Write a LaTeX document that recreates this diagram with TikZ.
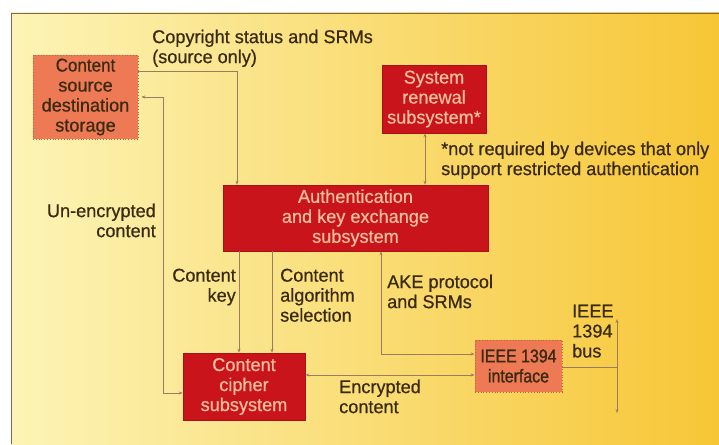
\documentclass[tikz,border=0pt]{standalone}
\usepackage{fontspec}
\setmainfont{Liberation Sans}[FakeStretch=0.98,FakeBold=0.6]
\usetikzlibrary{arrows.meta,shadings}
\definecolor{txt}{HTML}{3A2A12}
\definecolor{salmon}{HTML}{EE7A55}
\definecolor{redbox}{HTML}{C8141A}
\definecolor{pale}{HTML}{F4BE9C}
\definecolor{wire}{HTML}{9A7C62}
\definecolor{bgl}{HTML}{FCF4B6}
\definecolor{bgm}{HTML}{FAE58A}
\definecolor{bgr}{HTML}{F7C636}
\tikzset{
  fnt/.style={font=\fontsize{18.5}{20}\selectfont},
  lbl/.style={fnt, text=txt, inner sep=0pt, align=left},
  lightbox/.style={fill=salmon, draw=salmon!80!black, dotted, line width=0.8pt, fnt, text=txt, align=center, inner sep=0pt},
  darkbox/.style={fill=redbox, draw=redbox!85!black, line width=0.6pt, fnt, text=pale, align=center, inner sep=0pt},
  wireline/.style={draw=wire, line width=0.7pt},
  arr/.style={wireline, -{Stealth[length=4pt,width=3pt]}},
  darr/.style={wireline, {Stealth[length=4pt,width=3pt]}-{Stealth[length=4pt,width=3pt]}},
}
\begin{document}
\begin{tikzpicture}[x=1pt,y=-1pt]
\useasboundingbox (0,0) rectangle (719,444);
\fill[white] (0,0) rectangle (719,444);
\shade[left color=bgl, middle color=bgm, right color=bgr] (11,13) rectangle (719,444);
\draw[txt!70, line width=0.9pt] (11,444) -- (11,13) -- (719,13);
% boxes
\node[lightbox, minimum width=105pt, minimum height=84pt] (src) at (85.5,97) {\addfontfeature{FakeStretch=0.92}Content\\source\\destination\\storage};
\node[darkbox, minimum width=104pt, minimum height=68pt] (ren) at (434,99) {System\\renewal\\subsystem*};
\node[darkbox, minimum width=265pt, minimum height=66pt] (ake) at (355.5,218) {Authentication\\and key exchange\\subsystem};
\node[darkbox, minimum width=122pt, minimum height=67pt] (cip) at (244,386.5) {Content\\cipher\\subsystem};
\node[lightbox, minimum width=87pt, minimum height=52pt, font={\fontsize{18.5}{20}\selectfont\addfontfeature{FakeStretch=0.86,FakeBold=1.2}}] (ieee) at (518.5,366) {IEEE 1394\\interface};
% labels
\node[lbl, anchor=north west] (lcopy) at (152,29.5) {Copyright status and SRMs\\(source only)};
\node[lbl, anchor=north west] (lnote) at (441,141.5) {*not required by devices that only\\support restricted authentication};
\node[lbl, anchor=north east, align=right] (lun) at (156,203.5) {Un-encrypted\\content};
\node[lbl, anchor=north east, align=right] (lkey) at (236,268.5) {Content\\key};
\node[lbl, anchor=north west] (lalg) at (280,268.5) {Content\\algorithm\\selection};
\node[lbl, anchor=north west] (lake) at (387,274.5) {AKE protocol\\and SRMs};
\node[lbl, anchor=north west] (lenc) at (339,379.5) {Encrypted\\content};
\node[lbl, anchor=north west] (lbus) at (572,304.5) {IEEE\\1394\\bus};
% helper coordinates
\coordinate (c1) at (237,71);
\coordinate (u1) at (163,97);
\coordinate (u2) at (163,393);
\coordinate (a1) at (381,354);
\coordinate (b1) at (617,367);
\coordinate (btop) at (617,319);
\coordinate (bbot) at (617,413);
% connectors
\draw[arr] (src.east |- c1) -- (c1) -- (ake.north -| c1);
\draw[darr] (ren.south -| 425,0) -- (ake.north -| 425,0);
\draw[darr] ([xshift=3pt]src.east |- u1) -- (u1) -- (u2) -- (cip.west |- u2);
\draw[arr] (ake.south -| 239,0) -- (cip.north -| 239,0);
\draw[arr] (ake.south -| 272,0) -- (cip.north -| 272,0);
\draw[darr] (ake.south -| a1) -- (a1) -- (ieee.west |- a1);
\draw[darr] (cip.east |- 0,375) -- (ieee.west |- 0,375);
\draw[wireline] (ieee.east |- b1) -- (b1);
\draw[darr] (btop) -- (bbot);
\end{tikzpicture}
\end{document}
